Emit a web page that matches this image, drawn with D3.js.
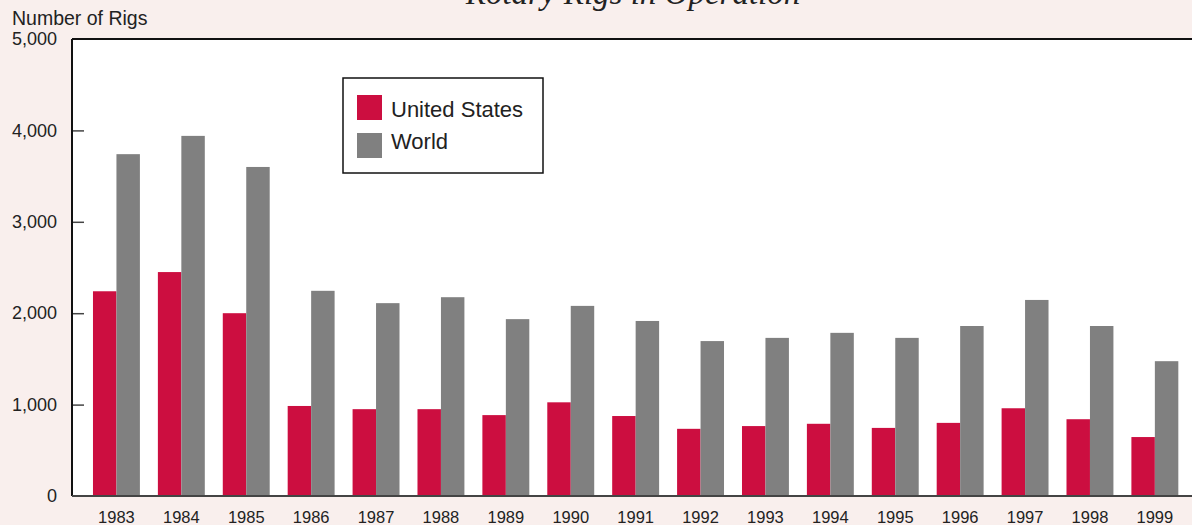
<!DOCTYPE html>
<html lang="en">
<head>
    <meta charset="UTF-8">
    <title>Rotary Rigs in Operation</title>
    <script src="https://d3js.org/d3.v7.min.js"></script>
    <style>
        body { margin: 0; background: #f9efed; }
        text { font-family: "Liberation Sans", Arial, sans-serif; fill: #222; }
        .title { font-family: "Liberation Serif", serif; font-style: italic; }
    </style>
</head>
<body>
    <div id="chart"></div>
    <script>
        // values
        var years = ["1983","1984","1985","1986","1987","1988","1989","1990","1991",
                     "1992","1993","1994","1995","1996","1997","1998","1999"];
        var usRigs = [2240, 2450, 2000, 985, 950, 950, 885, 1025, 875,
                      735, 765, 790, 745, 800, 960, 840, 645];
        var worldRigs = [3740, 3940, 3600, 2245, 2110, 2175, 1935, 2080, 1915,
                         1695, 1730, 1785, 1730, 1860, 2145, 1860, 1475];
        var seriesNames = ["United States", "World"];
        var seriesColors = ["#cc0e40", "#808080"];
        var yTicks = [0, 1000, 2000, 3000, 4000, 5000];

        var width = 1192, height = 525;
        var plot = {left: 72, top: 39, bottom: 496};

        var svg = d3.select("#chart").append("svg")
            .attr("width", width)
            .attr("height", height);

        // title, mostly cut off by the top of the frame
        svg.append("text")
            .attr("class", "title")
            .attr("x", 633)
            .attr("y", 4)
            .attr("text-anchor", "middle")
            .style("font-size", "33px")
            .text("Rotary Rigs in Operation");

        // white plot area
        svg.append("rect")
            .attr("x", plot.left)
            .attr("y", plot.top)
            .attr("width", width - plot.left + 5)
            .attr("height", plot.bottom - plot.top)
            .attr("fill", "#fff");

        var x = d3.scaleBand()
            .domain(years)
            .range([75, 1196.3])
            .paddingInner(0.277)
            .paddingOuter(0.277);

        var xs = d3.scaleBand()
            .domain(seriesNames)
            .range([0, x.bandwidth()]);

        var y = d3.scaleLinear()
            .domain([0, 5000])
            .range([plot.bottom, plot.top]);

        var rows = years.map(function(yr, i) {
            return {year: yr, values: [usRigs[i], worldRigs[i]]};
        });

        var groups = svg.selectAll(".year")
            .data(rows)
            .enter().append("g")
            .attr("class", "year")
            .attr("transform", function(d) { return "translate(" + x(d.year) + ",0)"; });

        groups.selectAll("rect")
            .data(function(d) { return d.values.map(function(v, j) { return {name: seriesNames[j], value: v, c: seriesColors[j]}; }); })
            .enter().append("rect")
            .attr("x", function(d) { return xs(d.name); })
            .attr("width", xs.bandwidth())
            .attr("y", function(d) { return y(d.value); })
            .attr("height", function(d) { return y(0) - y(d.value); })
            .attr("fill", function(d) { return d.c; });

        // y axis: ticks point into the plot
        var yAxis = svg.append("g")
            .attr("transform", "translate(" + plot.left + ",0)")
            .call(d3.axisRight(y).tickValues(yTicks).tickSize(12).tickFormat(d3.format(",")));
        yAxis.select(".domain").remove();
        yAxis.selectAll(".tick line").attr("stroke", "#444").attr("stroke-width", 1.5);
        yAxis.selectAll(".tick text")
            .attr("x", -15)
            .attr("text-anchor", "end")
            .attr("fill", "#222")
            .style("font-size", "18px")
            .style("font-family", "'Liberation Sans', Arial, sans-serif");
        yAxis.selectAll(".tick").filter(function(d) { return d === 0 || d === 5000; })
            .select("line").remove();

        // x axis labels
        var xAxis = svg.append("g")
            .attr("transform", "translate(0," + plot.bottom + ")")
            .call(d3.axisBottom(x).tickSize(0));
        xAxis.select(".domain").remove();
        xAxis.selectAll(".tick text")
            .attr("y", 0)
            .attr("dy", 27)
            .attr("fill", "#222")
            .style("font-size", "16.5px")
            .style("font-family", "'Liberation Sans', Arial, sans-serif");

        // frame lines
        svg.append("line")
            .attr("x1", plot.left).attr("x2", width)
            .attr("y1", plot.top).attr("y2", plot.top)
            .attr("stroke", "#111").attr("stroke-width", 2);
        svg.append("line")
            .attr("x1", plot.left).attr("x2", plot.left)
            .attr("y1", plot.top).attr("y2", plot.bottom)
            .attr("stroke", "#111").attr("stroke-width", 2);
        svg.append("line")
            .attr("x1", plot.left).attr("x2", width)
            .attr("y1", plot.bottom).attr("y2", plot.bottom)
            .attr("stroke", "#444").attr("stroke-width", 2);

        svg.append("text")
            .attr("x", 12)
            .attr("y", 25)
            .style("font-size", "19.5px")
            .text("Number of Rigs");

        // legend
        var legend = svg.append("g").attr("transform", "translate(343,78)");
        legend.append("rect")
            .attr("width", 200).attr("height", 95)
            .attr("fill", "#fff").attr("stroke", "#111").attr("stroke-width", 1.5);
        seriesNames.forEach(function(name, i) {
            legend.append("rect")
                .attr("x", 14).attr("y", 17 + i * 38)
                .attr("width", 25).attr("height", 25)
                .attr("fill", seriesColors[i]);
            legend.append("text")
                .attr("x", 48).attr("y", 39 + i * 32)
                .style("font-size", "22px")
                .text(name);
        });
    </script>
</body>
</html>
